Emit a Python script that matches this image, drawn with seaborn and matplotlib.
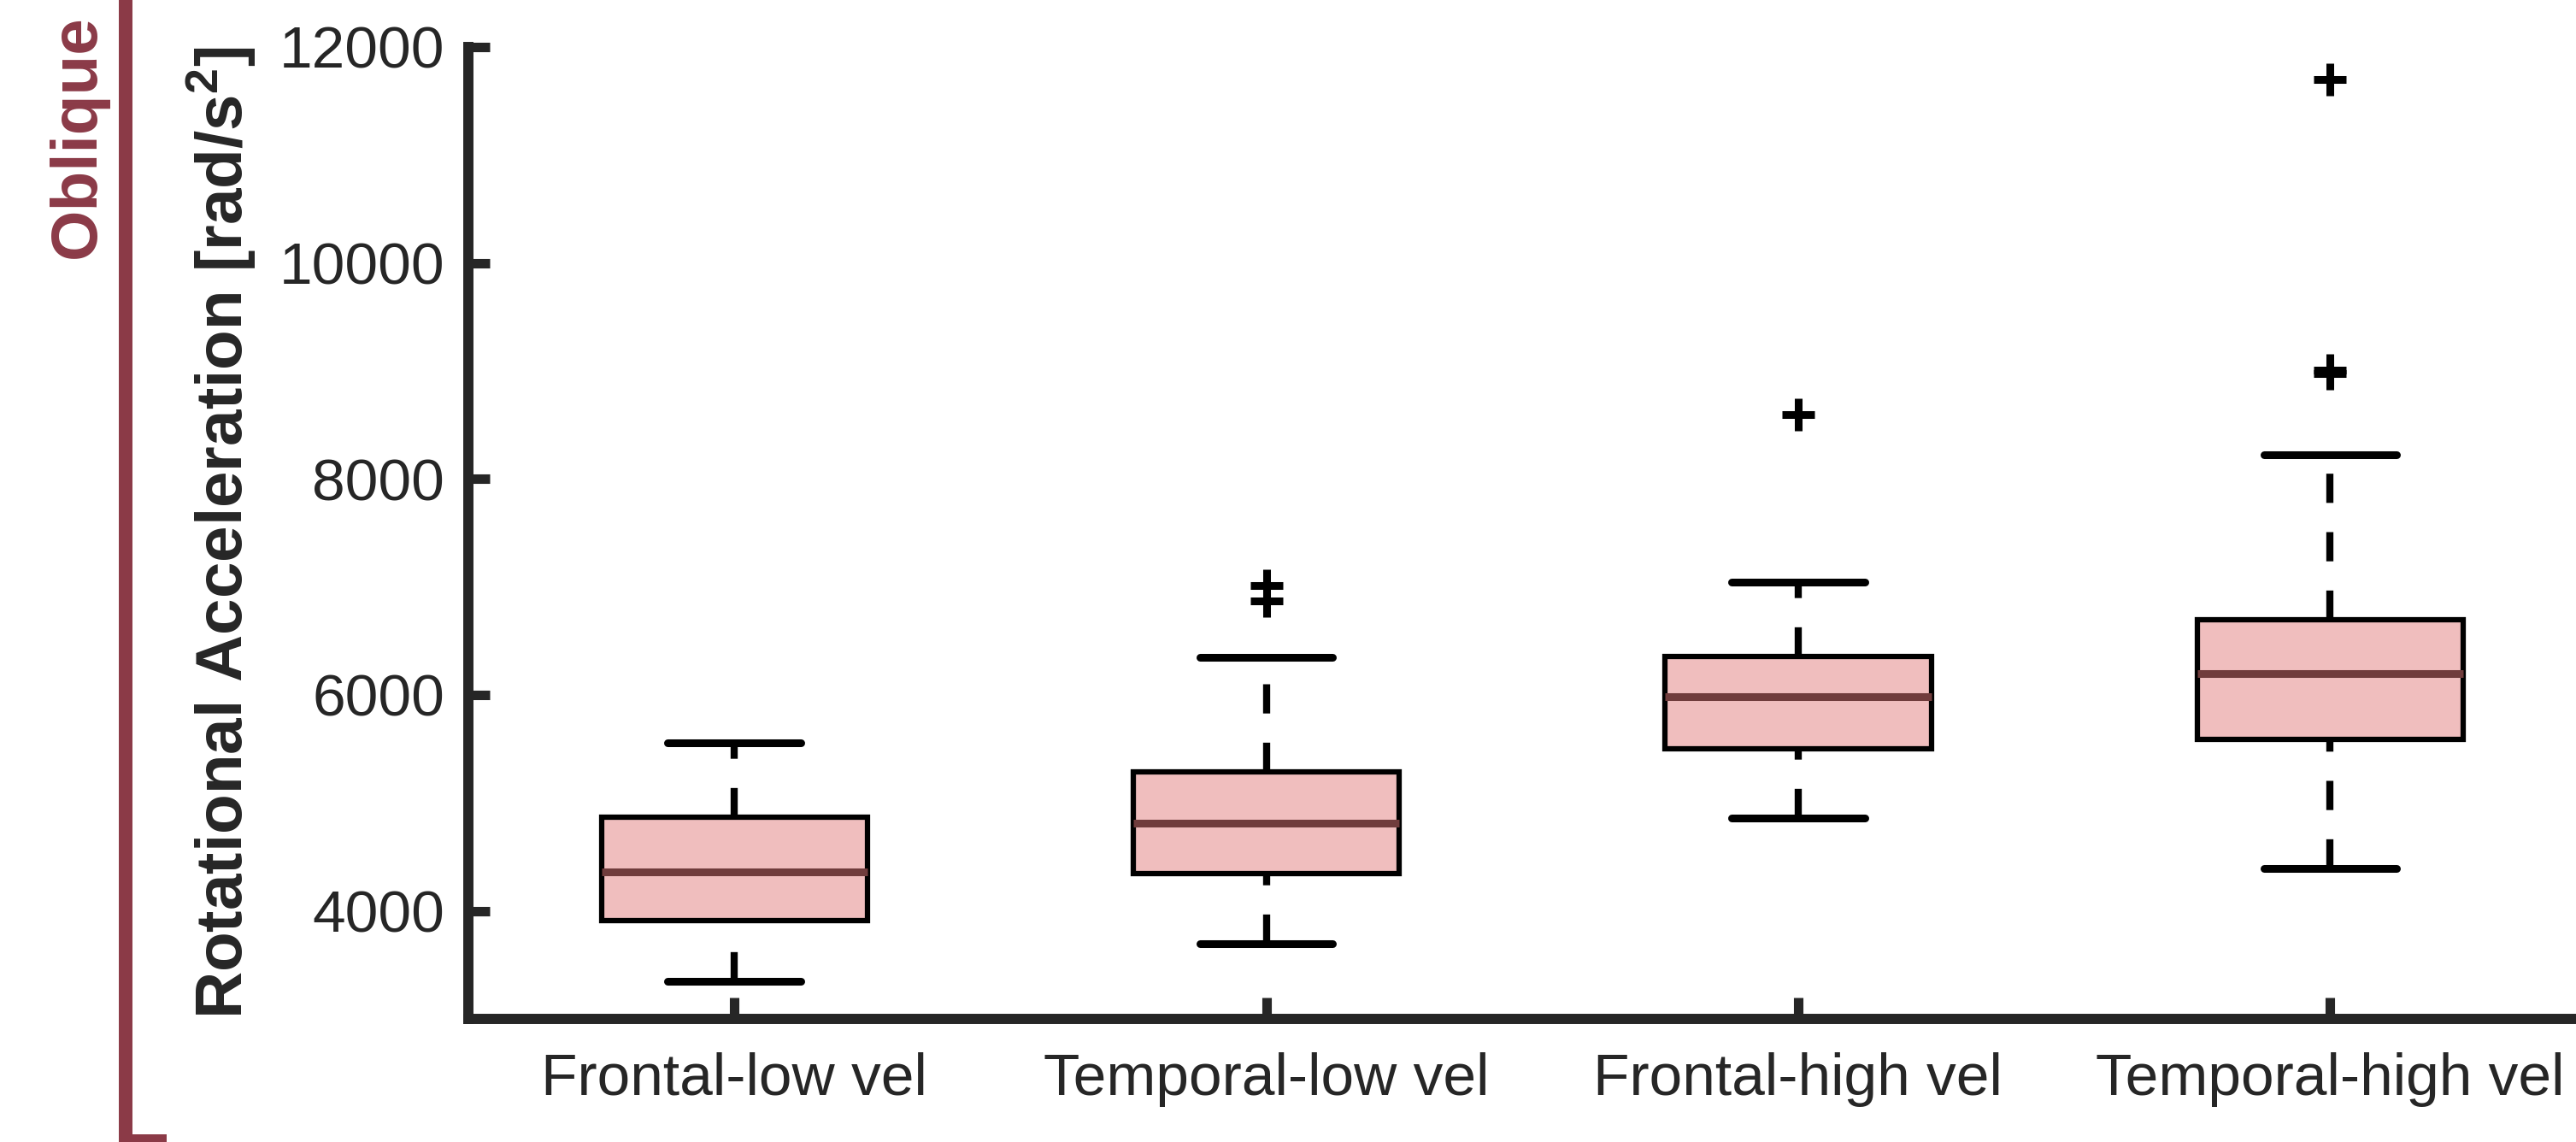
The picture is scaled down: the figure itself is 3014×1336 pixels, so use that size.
import numpy as np
import pandas as pd
import matplotlib
matplotlib.use("Agg")
import matplotlib.pyplot as plt
from matplotlib.lines import Line2D
import seaborn as sns

# ---------------- data ----------------
categories = ["Frontal-low vel", "Temporal-low vel", "Frontal-high vel", "Temporal-high vel"]
whisker_low = [3350, 3700, 4860, 4390]
q1 = [3910, 4345, 5505, 5590]
median = [4360, 4815, 5985, 6200]
q3 = [4870, 5290, 6357, 6698]
whisker_high = [5557, 6348, 7041, 8222]

outlier_groups = ["Temporal-low vel", "Temporal-low vel", "Frontal-high vel",
                  "Temporal-high vel", "Temporal-high vel", "Temporal-high vel"]
outlier_values = [7010, 6870, 8595, 11700, 9010, 8980]

y_ticks = [4000, 6000, 8000, 10000, 12000]
y_label = "Rotational Acceleration [rad/s$^2$]"
side_label = "Oblique"

# ---------------- styling ----------------
BOX_FILL = "#F0BEBE"
MEDIAN = "#703C3C"
MAROON = "#8B3A47"
AX_COLOR = "#262626"

sns.set_style("white")
plt.rcParams["font.family"] = ["Liberation Sans", "DejaVu Sans"]
plt.rcParams["mathtext.fontset"] = "custom"
plt.rcParams["mathtext.rm"] = "Liberation Sans"
plt.rcParams["mathtext.default"] = "regular"

# long-form table built from the five-number summaries
rows = []
for c, a, b, m, d, e in zip(categories, whisker_low, q1, median, q3, whisker_high):
    for v in (a, b, m, d, e):
        rows.append({"group": c, "value": v})
df = pd.DataFrame(rows)
out_df = pd.DataFrame({"group": outlier_groups, "value": outlier_values})

W, H = 3014, 1336
fig = plt.figure(figsize=(W / 100, H / 100), dpi=100)
ax = fig.add_axes([548 / W, (H - 1192) / H, (3037.5 - 548) / W, (1192 - 55) / H])

sns.boxplot(
    data=df, x="group", y="value", order=categories, ax=ax,
    width=0.5, color=BOX_FILL, linecolor="black", linewidth=4.5,
    saturation=1, whis=1.5, showfliers=False,
    boxprops=dict(facecolor=BOX_FILL, edgecolor="black", linewidth=4.5),
    whiskerprops=dict(color="black", linewidth=6, linestyle=(0, (4.1, 4.1))),
    capprops=dict(color="black", linewidth=6.5),
    medianprops=dict(color=MEDIAN, linewidth=6.5),
)

sns.stripplot(
    data=out_df, x="group", y="value", order=categories, ax=ax,
    jitter=False, marker="+", color="black", size=27, linewidth=6.5,
)

# MATLAB draws lower whiskers from the cap upwards (dash phase)
for ln in ax.lines:
    if ln.get_linestyle() == "--":
        yd = np.asarray(ln.get_ydata(), dtype=float)
        if yd[0] > yd[-1]:
            ln.set_ydata(yd[::-1])
            ln.set_xdata(np.asarray(ln.get_xdata(), dtype=float)[::-1])

ax.set_xlim(-0.5, 3.5)
ax.set_ylim(3000, 12000)
ax.set_yticks(y_ticks)
ax.set_xlabel("")
ax.set_ylabel(y_label, fontsize=55, fontweight="bold", color=AX_COLOR, labelpad=18)

for s in ["top", "right"]:
    ax.spines[s].set_visible(False)
for s in ["left", "bottom"]:
    ax.spines[s].set_linewidth(8.6)
    ax.spines[s].set_color(AX_COLOR)

ax.tick_params(axis="both", which="major", direction="in", length=18, width=8,
               color=AX_COLOR, labelsize=50, labelcolor=AX_COLOR,
               left=True, bottom=True, right=False, top=False)
ax.tick_params(axis="y", pad=20)
ax.tick_params(axis="x", pad=28)

fig.text(91 / W, 1 - 160 / H, side_label, rotation=90, ha="center", va="center",
         fontsize=55, fontweight="bold", color=MAROON)

fig.add_artist(Line2D([147 / W, 147 / W, 195 / W], [1.05, 1 / H, 1 / H],
                      transform=fig.transFigure, color=MAROON, linewidth=11.5,
                      solid_capstyle="butt", solid_joinstyle="miter"))

fig.savefig("out.png", dpi=100)
